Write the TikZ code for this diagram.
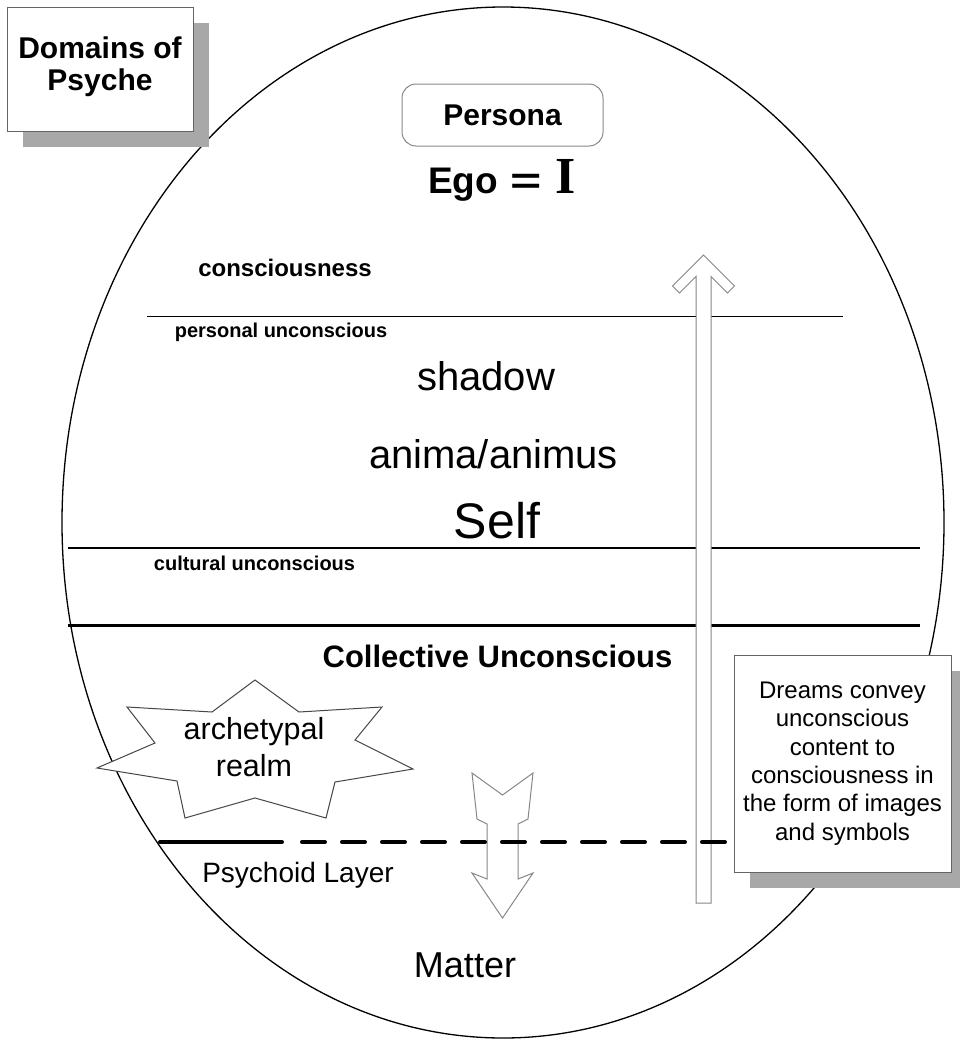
\documentclass[tikz,border=0pt]{standalone}
\usepackage{fontspec}
\setmainfont{Liberation Sans}
\newfontfamily\serifbold{Liberation Serif}
\usetikzlibrary{shadows}
\definecolor{shadowgray}{RGB}{168,168,168}
\definecolor{boxgray}{RGB}{100,100,100}
\definecolor{arrowgray}{RGB}{135,135,135}
\definecolor{stargray}{RGB}{70,70,70}
\newcommand{\fsz}[2]{\fontsize{#1}{#2}\selectfont}
\begin{document}
\begin{tikzpicture}[x=1pt,y=-1pt,
  txt/.style={anchor=base,inner sep=0pt},
  shadowbox/.style={draw=boxgray,line width=1pt,fill=white,inner sep=0pt,
    drop shadow={shadow xshift=16pt,shadow yshift=-16pt,fill=shadowgray,opacity=1}},
  arrowshape/.style={draw=arrowgray,line width=1pt,fill=white,line join=miter}]
\useasboundingbox (0,0) rectangle (959,1039);
% outer ellipse
\draw[line width=1.3pt] (503,522.5) ellipse [x radius=441, y radius=515.5];
% layer lines
\draw[line width=1.3pt] (147,316.5) -- (843,316.5);
\draw[line width=2pt] (68,547.5) -- (920,547.5);
\draw[line width=3.5pt] (68,625.5) -- (920,625.5);
% persona and ego
\node[draw=arrowgray,line width=1pt,rounded corners=14pt,minimum width=201pt,minimum height=62pt,inner sep=0pt,font=\bfseries\fsz{30}{32}] (persona) at (502.5,115) {Persona};
\node[txt,anchor=base west,font=\bfseries\fsz{37}{40}] (ego) at (428,193) {Ego};
\node[txt,anchor=base west,font=\bfseries\fsz{37}{40}] (eq) at (510,193) {\scalebox{1.45}[1]{=}};
\node[txt,anchor=base west,font=\serifbold\bfseries\fsz{52}{56}] (egoI) at (555,193) {I};
% labels
\node[txt,font=\bfseries\fsz{24}{26}] (cons) at (285,276) {consciousness};
\node[txt,font=\bfseries\fsz{20}{24}] (pers) at (281,337) {personal unconscious};
\node[txt,font=\fsz{40}{44}] (shadow) at (486,390) {shadow};
\node[txt,font=\fsz{40}{44}] (anima) at (493.5,468) {anima/animus};
\node[txt,font=\fsz{50}{54}] (self) at (497,538) {Self};
\node[txt,font=\bfseries\fsz{20}{24}] (cult) at (254.5,570) {cultural unconscious};
\node[txt,font=\bfseries\fsz{31}{34}] (coll) at (497.5,667) {Collective Unconscious};
\node[txt,font=\fsz{28}{32}] (psy) at (298,882) {Psychoid Layer};
\node[txt,font=\fsz{36}{40}] (matter) at (465,977) {Matter};
% archetypal star
\draw[stargray,line width=1pt,fill=white,line join=miter] (255,680) -- (299,712) -- (382,707) -- (355,740) -- (413,769) -- (335,782) -- (326,818) -- (255,798) -- (185,818) -- (177,781) -- (97,768) -- (155,743) -- (127,707) -- (212,712) -- cycle;
\node[font=\fsz{30.5}{37},align=center,inner sep=0pt] (arch) at (254,747.5) {archetypal\\realm};
% arrows
\draw[arrowshape] (703.5,255) -- (734.5,286) -- (727.5,293) -- (711,276.5) -- (711,903) -- (696,903) -- (696,276.5) -- (679.5,293) -- (672.5,286) -- cycle;
\draw[arrowshape] (472,773) -- (502.5,795) -- (533,773) -- (528,819) -- (518,824) -- (518,879) -- (533,873) -- (502.5,918) -- (472,873) -- (487,879) -- (487,824) -- (477,819) -- cycle;
% psychoid dashed line
\draw[line width=4pt,line cap=round] (160,842) -- (282,842);
\draw[line width=4pt,line cap=round,dash pattern=on 23pt off 17pt] (302,842) -- (740,842);
% boxes
\node[shadowbox,minimum width=186pt,minimum height=124pt] (dom) at (100,69) {};
\node[align=center,inner sep=0pt,font=\bfseries\fsz{30}{32}] (domtxt) at (100,66.5) {Domains of\\Psyche};
\node[shadowbox,minimum width=217pt,minimum height=217pt,align=center,font=\fsz{24}{28.4}] (dreams) at (842.5,763.5) {Dreams convey\\unconscious\\content to\\consciousness in\\the form of images\\and symbols};
\end{tikzpicture}
\end{document}
